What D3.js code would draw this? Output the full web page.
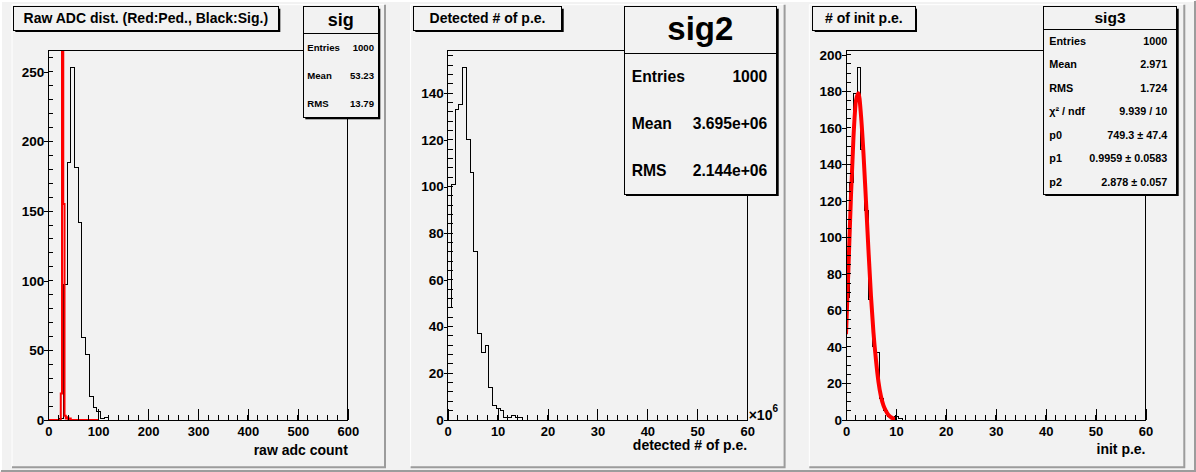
<!DOCTYPE html>
<html>
<head>
<meta charset="utf-8">
<script src="https://cdn.jsdelivr.net/npm/d3@7"></script>
<style>
  body { margin: 0; background: #f2f2f2; }
  svg text { font-family: "Liberation Sans", Arial, Helvetica, sans-serif; font-weight: bold; fill: #000; }
</style>
</head>
<body>
<svg id="canvas" width="1196" height="472"></svg>
<script>
// ---- values ----
// pad 1: raw ADC count. signal (black) bins of 7.5 from 0, pedestal (red) bins of 2.5 from 0
const adcSig = [0, 0, 0, 1, 97, 185, 253, 181, 142, 59, 47, 17, 9, 6, 1, 2];
const adcPed = [0, 0, 0, 0, 0, 0, 0, 0, 0, 0, 19, 820, 155, 3, 1, 2, 0, 1];
// pad 2: detected # of p.e. (x 1e6), bins of 0.75
const detPe = [48, 101, 133, 135, 151, 120, 106, 72, 37, 29, 32, 14, 6, 5, 4, 1, 1, 2, 1, 1];
// pad 3: # of init p.e., bins of 0.75, and the fitted curve
const initPe = [67, 130, 179, 193, 148, 115, 66, 40, 37, 12, 5, 2, 1, 2, 1];
const fitX = [0, 0.5, 1, 1.5, 2, 2.5, 3, 3.5, 4, 4.5, 5, 5.5, 6, 6.5, 7, 7.5, 8, 8.5, 9, 9.5, 10];
const fitY = [47, 84, 123, 155, 175, 179, 167, 146, 120, 93, 68, 48, 33, 21, 13, 8, 5, 2.7, 1.5, 0.8, 0.4];

const padTitles = ["Raw ADC dist. (Red:Ped., Black:Sig.)", "Detected # of p.e.", "# of init p.e."];
const axisTitles = ["raw adc count", "detected # of p.e.", "init p.e."];
const statNames = ["sig", "sig2", "sig3"];
const statRows = [
  [["Entries", "1000"], ["Mean", "53.23"], ["RMS", "13.79"]],
  [["Entries", "1000"], ["Mean", "3.695e+06"], ["RMS", "2.144e+06"]],
  [["Entries", "1000"], ["Mean", "2.971"], ["RMS", "1.724"], ["\u03c7\u00b2 / ndf", "9.939 / 10"],
   ["p0", "749.3 \u00b1 47.4"], ["p1", "0.9959 \u00b1 0.0583"], ["p2", "2.878 \u00b1 0.057"]]
];
const xTicks1 = [0, 100, 200, 300, 400, 500, 600];
const xTicks23 = [0, 10, 20, 30, 40, 50, 60];
const yTicks = [[0, 50, 100, 150, 200, 250], [0, 20, 40, 60, 80, 100, 120, 140], [0, 20, 40, 60, 80, 100, 120, 140, 160, 180, 200]];

const svg = d3.select("#canvas");
const bg = "#f2f2f2", dark = "#9c9c9c";

svg.append("rect").attr("width", 1196).attr("height", 472).attr("fill", bg);
// canvas bevel
svg.append("path").attr("d", "M1,471 V1 H1195").attr("stroke", "#fff").attr("stroke-width", 2).attr("fill", "none");
svg.append("path").attr("d", "M1195,1 V471 H1").attr("stroke", dark).attr("stroke-width", 2).attr("fill", "none");

const frameTop = 50, frameBottom = 420;

const pads = [
  { px: 12, pw: 373, fx: 48.3, xMax: 600, xTicks: xTicks1, xMinor: 20, yMinor: 10,
    titleBox: [13.3, 265], xTitleY: 455, stat: { x: 303.3, w: 75, h: 110.6, head: 27, nameSize: 18, rowSize: 9.6, l: 4, r: 4.3 } },
  { px: 410.6, pw: 374, fx: 447.7, xMax: 60, xTicks: xTicks23, xMinor: 2, yMinor: 4,
    titleBox: [413.3, 148.4], xTitleY: 450, stat: { x: 624, w: 152.7, h: 187.3, head: 46.6, nameSize: 33, rowSize: 15.7, l: 7.7, r: 9.4 } },
  { px: 809.3, pw: 375, fx: 846, xMax: 60, xTicks: xTicks23, xMinor: 2, yMinor: 5,
    titleBox: [812.7, 102.3], xTitleY: 454, stat: { x: 1043.3, w: 133.4, h: 187.3, head: 22.6, nameSize: 15.5, rowSize: 10.8, l: 6, r: 9.4 } }
];
const sigData = [adcSig, detPe, initPe];

// outline of a histogram as step points
function steps(counts, bw, nb) {
  const pts = [[0, 0]];
  for (let i = 0; i < nb; i++) {
    const c = counts[i] || 0;
    pts.push([i * bw, c], [(i + 1) * bw, c]);
  }
  pts.push([nb * bw, 0]);
  return pts;
}

pads.forEach((p, k) => {
  const g = svg.append("g");
  // pad with bevel
  g.append("rect").attr("x", p.px).attr("y", 4.7).attr("width", p.pw).attr("height", 462.6).attr("fill", bg);
  g.append("path").attr("d", `M${p.px},467.3 V4.7 H${p.px + p.pw}`).attr("stroke", "#fff").attr("fill", "none");
  g.append("path").attr("d", `M${p.px + p.pw},4.7 V467.3 H${p.px}`).attr("stroke", dark).attr("stroke-width", 2).attr("fill", "none");

  const x = d3.scaleLinear().domain([0, p.xMax]).range([p.fx, p.fx + 299.5]);
  const y = d3.scaleLinear().domain([0, d3.max(sigData[k]) * 1.05]).range([frameBottom, frameTop]);

  g.append("clipPath").attr("id", "clip" + k).append("rect")
    .attr("x", x.range()[0]).attr("y", frameTop).attr("width", 299.5).attr("height", frameBottom - frameTop);

  const line = d3.line().x(d => x(d[0])).y(d => y(d[1]));
  const plot = g.append("g").attr("clip-path", `url(#clip${k})`);

  if (k === 0) {
    plot.append("path").attr("d", line(steps(adcSig, 7.5, 80)))
      .attr("fill", "none").attr("stroke", "#000").attr("shape-rendering", "crispEdges");
    plot.append("path").attr("d", line(steps(adcPed, 2.5, 40)))
      .attr("fill", "none").attr("stroke", "#ff0000").attr("stroke-width", 2);
  } else {
    plot.append("path").attr("d", line(steps(sigData[k], 0.75, 80)))
      .attr("fill", "none").attr("stroke", "#000").attr("shape-rendering", "crispEdges");
  }
  if (k === 2) {
    plot.append("path")
      .attr("d", d3.line().x((d, i) => x(fitX[i])).y(d => y(d)).curve(d3.curveMonotoneX)(fitY))
      .attr("fill", "none").attr("stroke", "#ff0000").attr("stroke-width", 4);
  }

  // frame
  g.append("rect").attr("x", x.range()[0]).attr("y", frameTop).attr("width", 299.5).attr("height", frameBottom - frameTop)
    .attr("fill", "none").attr("stroke", "#000").attr("shape-rendering", "crispEdges");

  // x axis
  const xa = g.append("g").attr("transform", `translate(0,${frameBottom})`)
    .call(d3.axisBottom(x).tickValues(p.xTicks).tickSizeInner(-10.7).tickSizeOuter(0).tickPadding(7));
  xa.select(".domain").remove();
  xa.selectAll("text").attr("font-size", 13);
  xa.selectAll("line").attr("shape-rendering", "crispEdges");
  g.selectAll(null).data(d3.range(0, p.xMax + 1e-9, p.xMinor)).enter().append("line")
    .attr("x1", d => x(d)).attr("x2", d => x(d)).attr("y1", frameBottom).attr("y2", frameBottom - 5.3)
    .attr("stroke", "#000").attr("shape-rendering", "crispEdges");

  // y axis
  const ya = g.append("g").attr("transform", `translate(${x.range()[0]},0)`)
    .call(d3.axisLeft(y).tickValues(yTicks[k]).tickSizeInner(4).tickSizeOuter(0).tickPadding(0));
  ya.select(".domain").remove();
  ya.selectAll("text").attr("font-size", 13.5);
  ya.selectAll("line").attr("shape-rendering", "crispEdges");
  g.selectAll(null).data(d3.range(0, y.domain()[1], p.yMinor)).enter().append("line")
    .attr("x1", x.range()[0]).attr("x2", x.range()[0] + 5).attr("y1", d => y(d)).attr("y2", d => y(d))
    .attr("stroke", "#000").attr("shape-rendering", "crispEdges");

  // axis title
  g.append("text").attr("x", x.range()[1]).attr("y", p.xTitleY).attr("text-anchor", "end")
    .attr("font-size", 14).text(axisTitles[k]);
  if (k === 1) {
    const e = g.append("text").attr("x", x.range()[1] + 1.5).attr("y", 419.5).attr("font-size", 14);
    e.append("tspan").text("\u00d710");
    e.append("tspan").attr("font-size", 10).attr("dy", -8).text("6");
  }

  // title box with shadow
  const [tx, tw] = p.titleBox;
  g.append("rect").attr("x", tx + 2).attr("y", 8.7).attr("width", tw).attr("height", 23.3).attr("fill", "#000");
  g.append("rect").attr("x", tx).attr("y", 6.7).attr("width", tw).attr("height", 23.3)
    .attr("fill", bg).attr("stroke", "#000").attr("shape-rendering", "crispEdges");
  g.append("text").attr("x", tx + tw / 2).attr("y", 18.3).attr("dy", "0.34em").attr("text-anchor", "middle")
    .attr("font-size", 14).text(padTitles[k]);

  // stats box
  const s = p.stat;
  g.append("rect").attr("x", s.x + 2).attr("y", 8.7).attr("width", s.w).attr("height", s.h).attr("fill", "#000");
  g.append("rect").attr("x", s.x).attr("y", 6.7).attr("width", s.w).attr("height", s.h)
    .attr("fill", bg).attr("stroke", "#000").attr("shape-rendering", "crispEdges");
  g.append("line").attr("x1", s.x).attr("x2", s.x + s.w).attr("y1", 6.7 + s.head).attr("y2", 6.7 + s.head)
    .attr("stroke", "#000").attr("shape-rendering", "crispEdges");
  g.append("text").attr("x", s.x + s.w / 2).attr("y", 6.7 + s.head / 2).attr("dy", "0.3em")
    .attr("text-anchor", "middle").attr("font-size", s.nameSize).text(statNames[k]);
  const rowH = (s.h - s.head) / statRows[k].length;
  statRows[k].forEach((r, i) => {
    const ry = 6.7 + s.head + (i + 0.5) * rowH;
    g.append("text").attr("x", s.x + s.l).attr("y", ry).attr("dy", "0.35em").attr("font-size", s.rowSize).text(r[0]);
    g.append("text").attr("x", s.x + s.w - s.r).attr("y", ry).attr("dy", "0.35em")
      .attr("text-anchor", "end").attr("font-size", s.rowSize).text(r[1]);
  });
});
</script>
</body>
</html>
